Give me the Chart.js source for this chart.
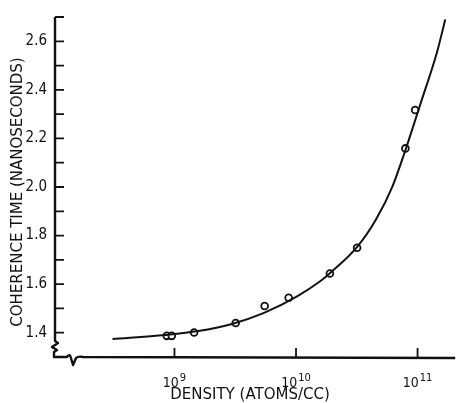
<!DOCTYPE html>
<html>
<head>
<meta charset="utf-8">
<script src="https://cdn.jsdelivr.net/npm/chart.js@4.4.1/dist/chart.umd.min.js"></script>
<style>
  html, body { margin: 0; padding: 0; background: #fff; }
  #wrap { width: 461px; height: 403px; }
</style>
</head>
<body>
<div id="wrap"><canvas id="c" width="461" height="403"></canvas></div>
<script>
// Measured points (density in atoms/cc, coherence time in ns)
const densityPts = [8.65e8, 9.5e8, 1.45e9, 3.19e9, 5.52e9, 8.7e9, 1.9e10, 3.18e10, 7.94e10, 9.55e10];
const timePts    = [1.387, 1.387, 1.401, 1.44, 1.51, 1.544, 1.644, 1.75, 2.159, 2.317];

// Fitted curve
const fitDensity = [3.09e8, 8.39e8, 1.57e9, 2.92e9, 5.46e9, 1.02e10, 1.58e10, 1.90e10, 3.24e10, 4.56e10, 6.22e10, 7.74e10, 1.057e11, 1.445e11, 1.69e11];
const fitTime    = [1.374, 1.391, 1.407, 1.435, 1.482, 1.55, 1.612, 1.645, 1.758, 1.867, 2.003, 2.135, 2.343, 2.555, 2.69];

// Axis ticks
const xTicks = [1e9, 1e10, 1e11];
const xTickBase = ['10', '10', '10'];
const xTickExp = ['9', '10', '11'];
const yTicks = [1.4, 1.6, 1.8, 2.0, 2.2, 2.4, 2.6];
const yTickLabels = ['1.4', '1.6', '1.8', '2.0', '2.2', '2.4', '2.6'];
const yMinorTicks = [1.5, 1.7, 1.9, 2.1, 2.3, 2.5, 2.7];
const xTitle = 'DENSITY (ATOMS/CC)';
const yTitle = 'COHERENCE TIME (NANOSECONDS)';

const FONT = "'DejaVu Sans', sans-serif";
const TICKFONT = "'DejaVu Sans Condensed', 'DejaVu Sans', sans-serif";
const INK = '#111';

const axesPlugin = {
  id: 'handAxes',
  afterDraw(chart) {
    const ctx = chart.ctx;
    const ca = chart.chartArea;
    const xs = chart.scales.x, ys = chart.scales.y;
    const L = ca.left, B = ca.bottom, T = ca.top, R = ca.right;
    ctx.save();
    ctx.strokeStyle = INK;
    ctx.fillStyle = INK;
    ctx.lineCap = 'butt';
    ctx.lineJoin = 'round';
    ctx.lineWidth = 2.4;
    // y axis with break
    ctx.beginPath();
    ctx.moveTo(L, T);
    ctx.lineTo(L, B - 16);
    ctx.lineTo(L + 3, B - 14);
    ctx.lineTo(L - 3, B - 10);
    ctx.lineTo(L + 2, B - 7);
    ctx.lineTo(L - 1, B - 5);
    ctx.lineTo(L - 1, B);
    // x axis with break
    ctx.lineTo(L + 12, B);
    ctx.quadraticCurveTo(L + 15, B - 4, L + 16, B + 1);
    ctx.lineTo(L + 18, B + 8);
    ctx.lineTo(L + 21, B + 1);
    ctx.quadraticCurveTo(L + 23, B - 1, L + 28, B);
    ctx.lineTo(R, B + 1);
    ctx.stroke();
    // y ticks (inside)
    ctx.lineWidth = 1.8;
    ctx.beginPath();
    yTicks.concat(yMinorTicks).forEach(v => {
      const y = ys.getPixelForValue(v);
      ctx.moveTo(L, y);
      ctx.lineTo(L + 9, y);
    });
    // x ticks (inside)
    xTicks.forEach(v => {
      const x = xs.getPixelForValue(v);
      ctx.moveTo(x, B);
      ctx.lineTo(x, B - 9);
    });
    ctx.stroke();

    // x tick labels: 10 with raised exponent
    ctx.textBaseline = 'alphabetic';
    xTicks.forEach((v, i) => {
      const x = xs.getPixelForValue(v);
      ctx.font = '14px ' + TICKFONT;
      const wb = ctx.measureText(xTickBase[i]).width;
      ctx.font = '11px ' + TICKFONT;
      const we = ctx.measureText(xTickExp[i]).width;
      const x0 = x - (wb + we + 1) / 2;
      ctx.font = '14px ' + TICKFONT;
      ctx.textAlign = 'left';
      ctx.fillText(xTickBase[i], x0, B + 30);
      ctx.font = '11px ' + TICKFONT;
      ctx.fillText(xTickExp[i], x0 + wb + 1, B + 24);
    });

    // axis titles
    ctx.font = '15px ' + FONT;
    ctx.textAlign = 'center';
    ctx.textBaseline = 'middle';
    ctx.fillText(xTitle, 250, B + 38);
    ctx.save();
    ctx.translate(18, 192);
    ctx.rotate(-Math.PI / 2);
    ctx.fillText(yTitle, 0, 0);
    ctx.restore();
    ctx.restore();
  }
};

new Chart(document.getElementById('c'), {
  type: 'scatter',
  data: {
    datasets: [
      {
        label: 'fit',
        data: fitDensity.map((d, i) => ({ x: d, y: fitTime[i] })),
        showLine: true,
        borderColor: INK,
        borderWidth: 2,
        pointRadius: 0,
        cubicInterpolationMode: 'monotone',
        fill: false
      },
      {
        label: 'measured',
        data: densityPts.map((d, i) => ({ x: d, y: timePts[i] })),
        showLine: false,
        pointStyle: 'circle',
        pointRadius: 3.4,
        borderWidth: 1.8,
        borderColor: INK,
        backgroundColor: '#fff'
      }
    ]
  },
  options: {
    responsive: false,
    animation: false,
    devicePixelRatio: 1,
    layout: { padding: { top: 13, right: 1, left: 0, bottom: 0 } },
    plugins: { legend: { display: false }, tooltip: { enabled: false } },
    scales: {
      x: {
        type: 'logarithmic',
        min: 1.04e8,
        max: 2.04e11,
        grid: { display: false, drawTicks: false },
        border: { display: false },
        afterBuildTicks: s => { s.ticks = xTicks.map(v => ({ value: v })); },
        afterFit: s => { s.height = 46; },
        ticks: { display: false },
        title: { display: false }
      },
      y: {
        min: 1.3,
        max: 2.7,
        grid: { display: false, drawTicks: false },
        border: { display: false },
        afterBuildTicks: s => { s.ticks = yTicks.map(v => ({ value: v })); },
        afterFit: s => { s.width = 55; },
        ticks: {
          padding: 8,
          color: INK,
          font: { family: TICKFONT, size: 15 },
          callback: (v) => { const i = yTicks.findIndex(t => Math.abs(t - v) < 1e-6); return i >= 0 ? yTickLabels[i] : ''; }
        },
        title: { display: false }
      }
    }
  },
  plugins: [axesPlugin]
});
</script>
</body>
</html>
